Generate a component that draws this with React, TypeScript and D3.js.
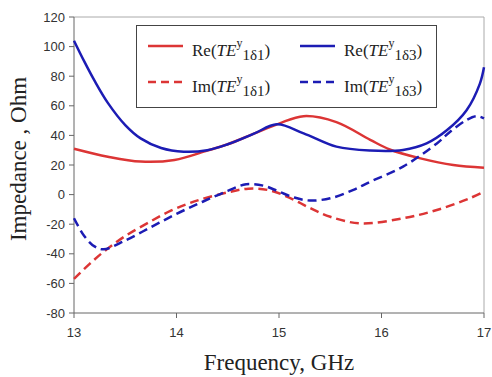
import React from "react";
import * as d3 from "d3";

const reTE1x = [13, 13.33, 13.65, 13.98, 14.3, 14.5, 14.75, 15, 15.24, 15.56, 15.89, 16.08, 16.38, 16.7, 17];
const reTE1y = [31, 25.6, 22.3, 23.4, 29.7, 34, 41, 48, 53, 49, 37, 30.5, 24.5, 20, 18.2];

const reTE3x = [13, 13.1, 13.2, 13.33, 13.5, 13.65, 13.85, 14.07, 14.3, 14.5, 14.75, 14.98, 15.24, 15.56, 15.89, 16.21, 16.44, 16.64, 16.83, 16.96, 17];
const reTE3y = [104, 90, 77, 62, 47, 38, 31.5, 29, 30, 34, 41, 47.5, 41.4, 32.4, 29.8, 30.2, 34.6, 43.6, 57, 75, 86];

const imTE1x = [13, 13.15, 13.3, 13.5, 13.75, 13.94, 14.1, 14.25, 14.5, 14.7, 14.9, 15.1, 15.3, 15.5, 15.8, 16.21, 16.54, 16.86, 17];
const imTE1y = [-57, -47, -38, -28, -18, -11, -6.5, -3, 1.5, 4, 3, -2, -9, -15, -19.5, -16, -10.4, -2.5, 2];

const imTE3x = [13, 13.1, 13.2, 13.29, 13.5, 13.75, 14, 14.25, 14.5, 14.68, 14.85, 15.0, 15.15, 15.3, 15.5, 15.72, 15.89, 16.21, 16.54, 16.67, 16.83, 16.93, 17];
const imTE3y = [-16, -28, -35, -37, -31, -22, -13, -5, 2.5, 7, 6, 2, -2, -4, -2.5, 3, 8.7, 18.9, 34.6, 42.5, 50.4, 53, 51.5];

const xTicks = [13, 14, 15, 16, 17];
const yTicks = [-80, -60, -40, -20, 0, 20, 40, 60, 80, 100, 120];

const RED = "#dc3535";
const BLUE = "#1c1cb4";

const series = [
  { xs: reTE1x, ys: reTE1y, color: RED, dash: false, label: "Re(", sub: "1δ1" },
  { xs: reTE3x, ys: reTE3y, color: BLUE, dash: false, label: "Re(", sub: "1δ3" },
  { xs: imTE1x, ys: imTE1y, color: RED, dash: true, label: "Im(", sub: "1δ1" },
  { xs: imTE3x, ys: imTE3y, color: BLUE, dash: true, label: "Im(", sub: "1δ3" },
];

export default function App() {
  const W = 492, H = 377;
  const L = 74, R = 484, T = 17, B = 313;
  const x = d3.scaleLinear().domain([13, 17]).range([L, R]);
  const y = d3.scaleLinear().domain([-80, 120]).range([B, T]);
  const line = d3
    .line<[number, number]>()
    .x((d) => x(d[0]))
    .y((d) => y(d[1]))
    .curve(d3.curveCatmullRom.alpha(0.5));

  const serif = "'Liberation Serif', 'Times New Roman', serif";
  const sans = "'Liberation Sans', Arial, sans-serif";

  const legendPos = [
    { lx: 148, ty: 46 },
    { lx: 300, ty: 46 },
    { lx: 148, ty: 82 },
    { lx: 300, ty: 82 },
  ];

  return (
    <svg width={W} height={H} style={{ position: "absolute", left: 0, top: 0, background: "#fff" }}>
      <rect x={0} y={0} width={W} height={H} fill="#fff" />
      <line x1={L} y1={T} x2={R} y2={T} stroke="#aaa" strokeWidth={1} />
      <line x1={R} y1={T} x2={R} y2={B} stroke="#aaa" strokeWidth={1} />
      <line x1={L} y1={T} x2={L} y2={B} stroke="#666" strokeWidth={1} />
      <line x1={L} y1={B} x2={R} y2={B} stroke="#666" strokeWidth={1} />
      {yTicks.map((t) => (
        <g key={"y" + t}>
          <line x1={L - 5} x2={L} y1={y(t)} y2={y(t)} stroke="#666" />
          <text x={L - 9} y={y(t)} dy="0.35em" textAnchor="end" fontFamily={sans} fontSize={13} fill="#333">
            {t}
          </text>
        </g>
      ))}
      {xTicks.map((t) => (
        <g key={"x" + t}>
          <line x1={x(t)} x2={x(t)} y1={B} y2={B + 5} stroke="#666" />
          <text x={x(t)} y={B + 24} textAnchor="middle" fontFamily={sans} fontSize={13} fill="#333">
            {t}
          </text>
        </g>
      ))}
      {series.map((s, i) => (
        <path
          key={"s" + i}
          d={line(s.xs.map((v, j) => [v, s.ys[j]] as [number, number])) || ""}
          fill="none"
          stroke={s.color}
          strokeWidth={2.5}
          strokeDasharray={s.dash ? "9 5" : undefined}
        />
      ))}
      <rect x={136.5} y={25.5} width={300} height={82} fill="#fff" stroke="#444" strokeWidth={1} />
      {series.map((s, i) => {
        const p = legendPos[i];
        return (
          <g key={"l" + i}>
            <line
              x1={p.lx}
              x2={p.lx + 35}
              y1={p.ty}
              y2={p.ty}
              stroke={s.color}
              strokeWidth={2.5}
              strokeDasharray={s.dash ? "8 5" : undefined}
            />
            <text x={p.lx + 44} y={p.ty + 10} fontFamily={serif} fontSize={17} fill="#222">
              {s.label}
              <tspan fontStyle="italic">TE</tspan>
              <tspan fontSize={12} dy={-9}>y</tspan>
              <tspan fontSize={15} dy={13}>{s.sub}</tspan>
              <tspan dy={-4}>)</tspan>
            </text>
          </g>
        );
      })}
      <text x={279} y={370} textAnchor="middle" fontFamily={serif} fontSize={23} fill="#222">
        Frequency, GHz
      </text>
      <text
        transform="translate(26, 159) rotate(-90)"
        textAnchor="middle"
        fontFamily={serif}
        fontSize={23}
        fill="#222"
      >
        Impedance , Ohm
      </text>
    </svg>
  );
}
